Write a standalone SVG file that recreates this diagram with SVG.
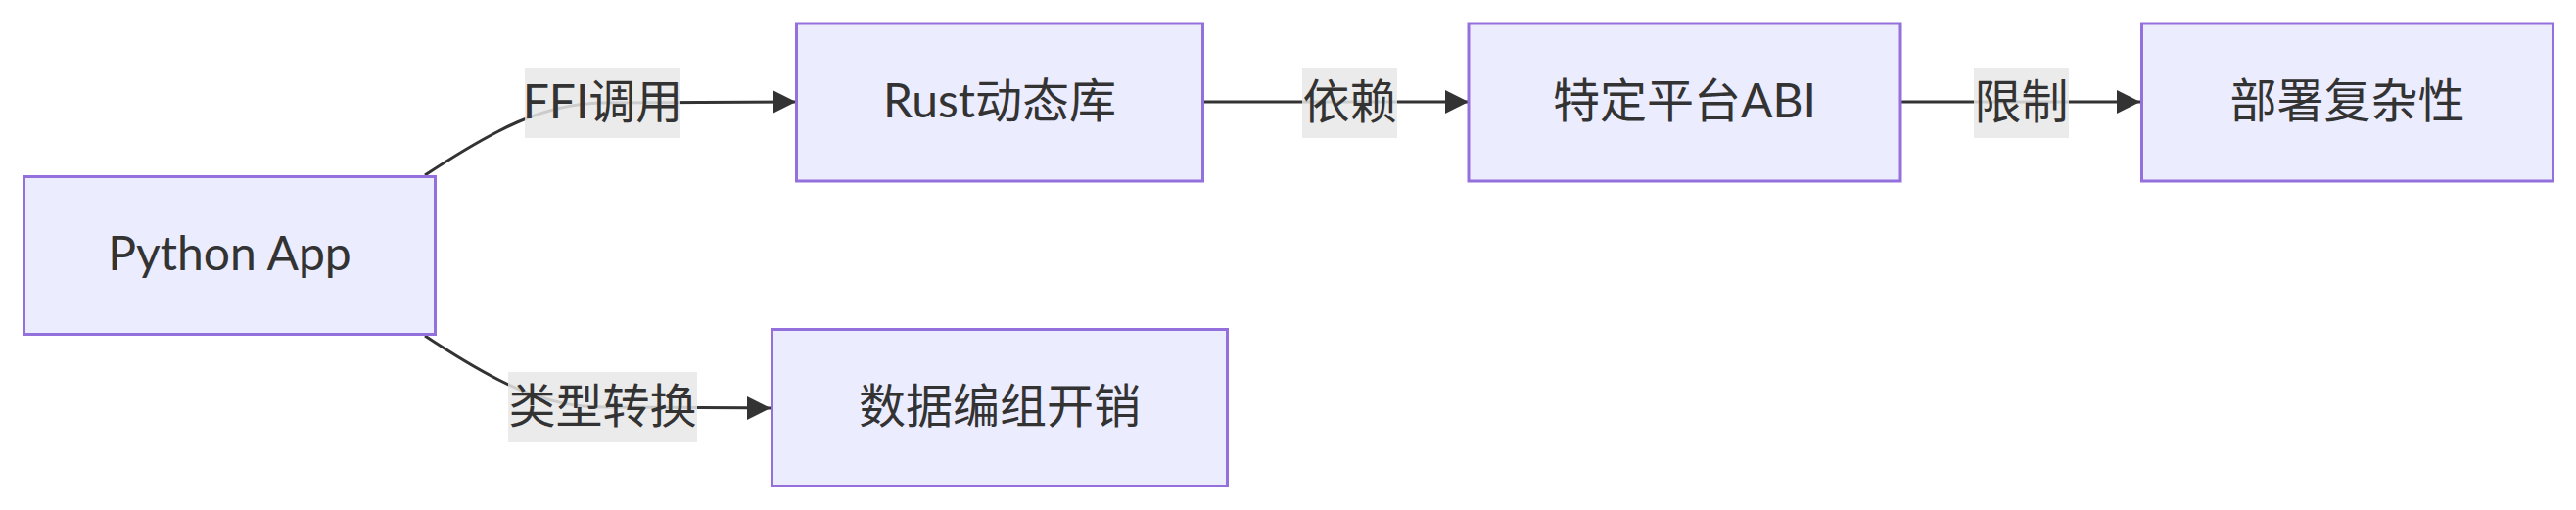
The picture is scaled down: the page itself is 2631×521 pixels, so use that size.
<svg xmlns="http://www.w3.org/2000/svg" width="2631" height="521" viewBox="0 0 2631 521">
<style>
.node rect{fill:#ECECFF;stroke:#9370DB;stroke-width:3}
.node text,.label text{font-family:Lato,"Noto Sans CJK SC",sans-serif;font-size:48px;fill:#333;text-anchor:middle}
.edge{fill:none;stroke:#333;stroke-width:3}
.label rect{fill:#e8e8e8;opacity:0.85}
</style>
<defs>
<marker id="arrow" markerUnits="userSpaceOnUse" markerWidth="24" markerHeight="24" viewBox="0 0 24 24" refX="24" refY="12" orient="auto">
<path d="M0,0 L24,12 L0,24 z" fill="#333"/>
</marker>
</defs>
<rect width="2631" height="521" fill="#fff"/>
<g id="connectors">
<path class="edge" d="M434,179 C505,132 555,106 615,105 C680,105 740,104 813,104" marker-end="url(#arrow)"/>
<path class="edge" d="M434,343 C505,390 555,416 615,416 C680,416 740,417 787,417" marker-end="url(#arrow)"/>
<path class="edge" d="M1230,104 L1500,104" marker-end="url(#arrow)"/>
<path class="edge" d="M1942,104 L2186,104" marker-end="url(#arrow)"/>
</g>
<g id="edge-labels">
<g class="label" id="label-ffi"><rect x="536" y="69" width="159" height="72"/><text x="615.5" y="121">FFI调用</text></g>
<g class="label" id="label-yilai"><rect x="1330" y="69" width="97" height="72"/><text x="1378.5" y="121">依赖</text></g>
<g class="label" id="label-xianzhi"><rect x="2016" y="69" width="97" height="72"/><text x="2064.5" y="121">限制</text></g>
<g class="label" id="label-leixing"><rect x="519" y="380" width="193" height="72"/><text x="615.5" y="432">类型转换</text></g>
</g>
<g class="node" id="python"><rect x="24.5" y="180.5" width="420" height="161"/><text x="234.5" y="276">Python App</text></g>
<g class="node" id="rust"><rect x="813.5" y="24" width="415" height="161"/><text x="1021" y="120">Rust动态库</text></g>
<g class="node" id="abi"><rect x="1500" y="24" width="441" height="161"/><text x="1720.5" y="120">特定平台ABI</text></g>
<g class="node" id="deploy"><rect x="2187.5" y="24" width="420" height="161"/><text x="2397.5" y="120">部署复杂性</text></g>
<g class="node" id="marshal"><rect x="788.5" y="336.5" width="465" height="160"/><text x="1021" y="432">数据编组开销</text></g>
</svg>
